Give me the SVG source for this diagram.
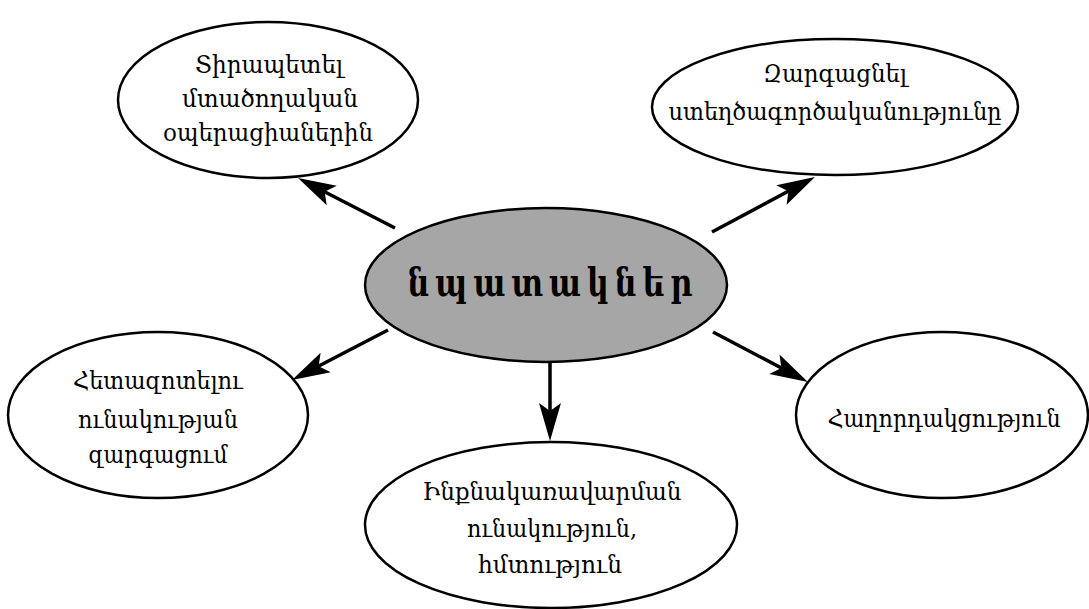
<svg xmlns="http://www.w3.org/2000/svg" width="1089" height="609" viewBox="0 0 1089 609">
  <style>
    .node { fill: #ffffff; stroke: #000000; stroke-width: 2.5; }
    .core { fill: #a6a6a6; stroke: #000000; stroke-width: 2.5; }
    .label { font-family: "DejaVu Serif", "Liberation Serif", serif; font-size: 25px; fill: #000000; text-anchor: middle; }
    .title { font-family: "DejaVu Serif", "Liberation Serif", serif; font-size: 40px; font-weight: bold; word-spacing: -6px; fill: #000000; text-anchor: middle; }
    .link { stroke: #000000; stroke-width: 3.5; fill: none; marker-end: url(#head); }
  </style>
  <defs>
    <marker id="head" markerUnits="userSpaceOnUse" markerWidth="38" markerHeight="22" refX="30" refY="11" orient="auto" overflow="visible">
      <path d="M38,11 L0,0 L8,11 L0,22 Z" fill="#000000"/>
    </marker>
  </defs>

  <g id="connectors">
    <line class="link" x1="395" y1="228" x2="305.1" y2="181.7"/>
    <line class="link" x1="712" y1="232" x2="807.9" y2="180.8"/>
    <line class="link" x1="388" y1="330" x2="299.1" y2="376.3"/>
    <line class="link" x1="713" y1="332" x2="800.9" y2="378.3"/>
    <line class="link" x1="550" y1="362" x2="550" y2="433"/>
  </g>

  <g id="node-center">
    <ellipse class="core" cx="546" cy="285" rx="181" ry="77"/>
    <text class="title" x="550" y="296" textLength="285" lengthAdjust="spacingAndGlyphs">ն պ ա տ ա կ ն ե ր</text>
  </g>

  <g id="node-top-left">
    <ellipse class="node" cx="268" cy="100" rx="150" ry="78"/>
    <text class="label" x="269" y="73" textLength="148" lengthAdjust="spacingAndGlyphs">Տիրապետել</text>
    <text class="label" x="270" y="107" textLength="176" lengthAdjust="spacingAndGlyphs">մտածողական</text>
    <text class="label" x="268" y="141" textLength="210" lengthAdjust="spacingAndGlyphs">օպերացիաներին</text>
  </g>

  <g id="node-top-right">
    <ellipse class="node" cx="835" cy="107" rx="183" ry="68"/>
    <text class="label" x="835" y="82" textLength="144" lengthAdjust="spacingAndGlyphs">Զարգացնել</text>
    <text class="label" x="835" y="120" textLength="333" lengthAdjust="spacingAndGlyphs">ստեղծագործականությունը</text>
  </g>

  <g id="node-left">
    <ellipse class="node" cx="158" cy="415" rx="150" ry="83"/>
    <text class="label" x="158" y="389" textLength="170" lengthAdjust="spacingAndGlyphs">Հետազոտելու</text>
    <text class="label" x="158" y="428" textLength="160" lengthAdjust="spacingAndGlyphs">ունակության</text>
    <text class="label" x="158" y="463" textLength="139" lengthAdjust="spacingAndGlyphs">զարգացում</text>
  </g>

  <g id="node-bottom">
    <ellipse class="node" cx="551" cy="525" rx="186" ry="83"/>
    <text class="label" x="552" y="500" textLength="259" lengthAdjust="spacingAndGlyphs">Ինքնակառավարման</text>
    <text class="label" x="552" y="537" textLength="170" lengthAdjust="spacingAndGlyphs">ունակություն,</text>
    <text class="label" x="550" y="573" textLength="144" lengthAdjust="spacingAndGlyphs">հմտություն</text>
  </g>

  <g id="node-right">
    <ellipse class="node" cx="942" cy="415" rx="146" ry="83"/>
    <text class="label" x="944" y="427" textLength="233" lengthAdjust="spacingAndGlyphs">Հաղորդակցություն</text>
  </g>
</svg>
